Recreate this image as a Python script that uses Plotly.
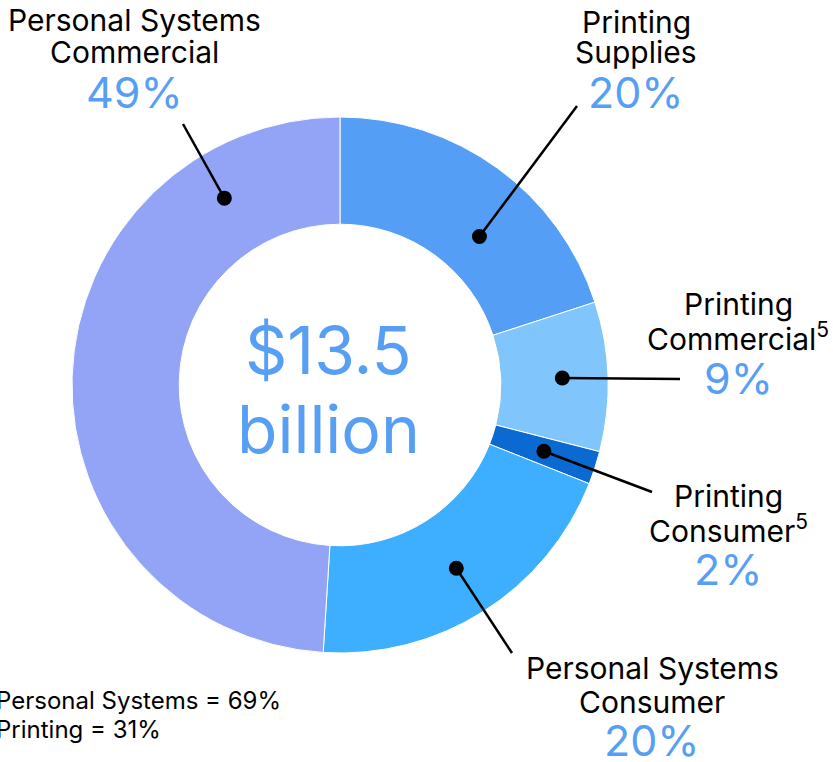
import math
import plotly.graph_objects as go

# Revenue mix by business segment (share of net revenue, %)
segments = [
    "Printing Supplies",
    "Printing Commercial",
    "Printing Consumer",
    "Personal Systems Consumer",
    "Personal Systems Commercial",
]
shares = [20, 9, 2, 20, 49]
colors = ["#559EF6", "#80C5FC", "#0A6AD2", "#3EAEFE", "#93A4F6"]
label_lines = [
    ["Printing", "Supplies"],
    ["Printing", "Commercial<sup>5</sup>"],
    ["Printing", "Consumer<sup>5</sup>"],
    ["Personal Systems", "Consumer"],
    ["Personal Systems", "Commercial"],
]
total_lines = ["$13.5", "billion"]
summary_lines = ["Personal Systems = 69%", "Printing = 31%"]

# ---- layout geometry (pixels, measured from top-left) ----
W, H = 833, 762
CX, CY = 340, 385
R_OUT = 268
HOLE = 0.6
FONT = "Inter"
BLUE_TEXT = "#569FF4"

# callout placement per segment: position of the dot inside its slice
# (fraction along the slice angle, fraction of outer radius), the elbow end
# of the leader line, and the text block centre / line centres
callouts = [
    dict(frac=0.60, rad=0.76, end=(577, 106), tx=636, ys=(22, 52, 92)),
    dict(frac=0.50, rad=0.83, end=(680, 379), tx=738, ys=(304, 337, 378)),
    dict(frac=0.50, rad=0.80, end=(652, 492), tx=728, ys=(496, 529, 569)),
    dict(frac=0.50, rad=0.81, end=(512, 653), tx=652, ys=(668, 702, 740)),
    dict(frac=0.82, rad=0.82, end=(183, 124), tx=134, ys=(20, 52, 92)),
]


def px(x):
    return x / W


def py(y):
    return 1 - y / H


fig = go.Figure(
    go.Pie(
        labels=segments,
        values=shares,
        sort=False,
        direction="clockwise",
        rotation=0,
        hole=HOLE,
        marker=dict(colors=colors, line=dict(color="white", width=1)),
        textinfo="none",
        hoverinfo="label+percent",
        showlegend=False,
        domain=dict(
            x=[px(CX - R_OUT), px(CX + R_OUT)],
            y=[py(CY + R_OUT), py(CY - R_OUT)],
        ),
    )
)

shapes = []
annotations = []

total = sum(shares)
start = 0.0
for seg, share, lines, c in zip(segments, shares, label_lines, callouts):
    span = 360.0 * share / total
    ang = math.radians(start + c["frac"] * span)
    start += span
    r = c["rad"] * R_OUT
    dx_ = CX + r * math.sin(ang)
    dy_ = CY - r * math.cos(ang)
    ex, ey = c["end"]
    shapes.append(dict(
        type="line", xref="paper", yref="paper",
        x0=px(dx_), y0=py(dy_), x1=px(ex), y1=py(ey),
        line=dict(color="black", width=2.5),
    ))
    shapes.append(dict(
        type="circle", xref="paper", yref="paper",
        xsizemode="pixel", ysizemode="pixel",
        xanchor=px(dx_), yanchor=py(dy_),
        x0=-7.5, x1=7.5, y0=-7.5, y1=7.5,
        fillcolor="black", line=dict(width=0),
    ))
    texts = lines + [f"{share}%"]
    for i, (t, yy) in enumerate(zip(texts, c["ys"])):
        is_pct = i == len(texts) - 1
        annotations.append(dict(
            x=px(c["tx"]), y=py(yy), xref="paper", yref="paper",
            xanchor="center", yanchor="middle", showarrow=False,
            text=t,
            font=dict(family=FONT, size=43 if is_pct else 30,
                      color=BLUE_TEXT if is_pct else "black"),
        ))

# centre total
for t, yy in zip(total_lines, (350, 429)):
    annotations.append(dict(
        x=px(328), y=py(yy), xref="paper", yref="paper",
        xanchor="center", yanchor="middle", showarrow=False, text=t,
        font=dict(family=FONT, size=66, color=BLUE_TEXT),
    ))

# segment group totals
for t, yy in zip(summary_lines, (700, 729)):
    annotations.append(dict(
        x=px(-6), y=py(yy), xref="paper", yref="paper",
        xanchor="left", yanchor="middle", showarrow=False, text=t,
        font=dict(family=FONT, size=24, color="black"),
    ))

fig.update_layout(
    width=W, height=H,
    margin=dict(l=0, r=0, t=0, b=0),
    paper_bgcolor="white", plot_bgcolor="white",
    shapes=shapes, annotations=annotations,
)

fig.write_html("out.html")
